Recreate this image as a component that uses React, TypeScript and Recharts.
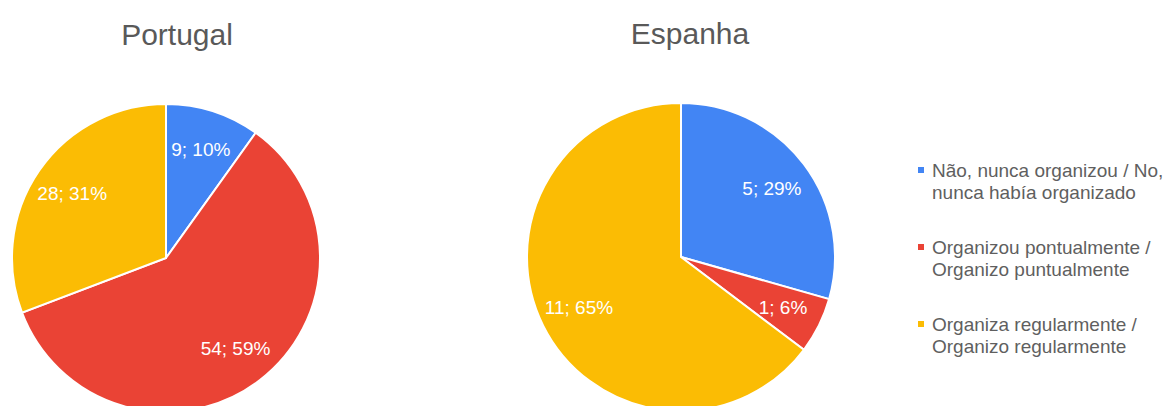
import React from 'react';
import { PieChart, Pie, Cell } from 'recharts';

const categories = [
  'Não, nunca organizou / No,\nnunca había organizado',
  'Organizou pontualmente /\nOrganizo puntualmente',
  'Organiza regularmente /\nOrganizo regularmente',
];
const colors = ['#4285F4', '#EA4335', '#FBBC04'];
const portugalValues = [9, 54, 28];
const espanhaValues = [5, 1, 11];
const titles = ['Portugal', 'Espanha'];

const portugalData = categories.map((name, i) => ({ name, value: portugalValues[i] }));
const espanhaData = categories.map((name, i) => ({ name, value: espanhaValues[i] }));

const FONT = "Arial, 'Liberation Sans', sans-serif";
const RAD = Math.PI / 180;

const renderLabel = (props: any) => {
  const { cx, cy, midAngle, outerRadius, value, percent } = props;
  const r = outerRadius * 0.74;
  const x = cx + r * Math.cos(-midAngle * RAD);
  const y = cy + r * Math.sin(-midAngle * RAD);
  return (
    <text
      x={x}
      y={y}
      fill="#ffffff"
      textAnchor="middle"
      dominantBaseline="central"
      style={{ fontFamily: FONT, fontSize: 19 }}
    >
      {`${value}; ${Math.round(percent * 100)}%`}
    </text>
  );
};

export default function App() {
  return (
    <div style={{ position: 'absolute', left: 0, top: 0, width: 1166, height: 406, background: '#fff', overflow: 'hidden' }}>
      <PieChart width={1166} height={406} margin={{ top: 0, right: 0, bottom: 0, left: 0 }}>
        <Pie
          data={portugalData}
          dataKey="value"
          nameKey="name"
          cx={166}
          cy={258}
          outerRadius={154}
          startAngle={90}
          endAngle={-270}
          stroke="#ffffff"
          strokeWidth={2}
          label={renderLabel}
          labelLine={false}
          isAnimationActive={false}
        >
          {portugalData.map((_, i) => (
            <Cell key={i} fill={colors[i]} />
          ))}
        </Pie>
        <Pie
          data={espanhaData}
          dataKey="value"
          nameKey="name"
          cx={681}
          cy={257}
          outerRadius={154}
          startAngle={90}
          endAngle={-270}
          stroke="#ffffff"
          strokeWidth={2}
          label={renderLabel}
          labelLine={false}
          isAnimationActive={false}
        >
          {espanhaData.map((_, i) => (
            <Cell key={i} fill={colors[i]} />
          ))}
        </Pie>
      </PieChart>
      {[{ t: titles[0], x: 177, top: 19.6 }, { t: titles[1], x: 690, top: 18.6 }].map((d) => (
        <div
          key={d.t}
          style={{
            position: 'absolute',
            left: d.x - 150,
            top: d.top,
            width: 300,
            textAlign: 'center',
            fontFamily: FONT,
            fontSize: 30,
            lineHeight: '30px',
            color: '#595959',
          }}
        >
          {d.t}
        </div>
      ))}
      <div
        style={{
          position: 'absolute',
          left: 918,
          top: 160,
          display: 'flex',
          flexDirection: 'column',
          gap: 34,
          fontFamily: FONT,
          fontSize: 19,
          lineHeight: '21.5px',
          color: '#5f5f5f',
        }}
      >
        {categories.map((c, i) => (
          <div key={i} style={{ position: 'relative', paddingLeft: 14, whiteSpace: 'pre-line', height: 43 }}>
            <div
              style={{
                position: 'absolute',
                left: 0,
                top: 7,
                width: 6,
                height: 6,
                background: colors[i],
              }}
            />
            {c}
          </div>
        ))}
      </div>
    </div>
  );
}
